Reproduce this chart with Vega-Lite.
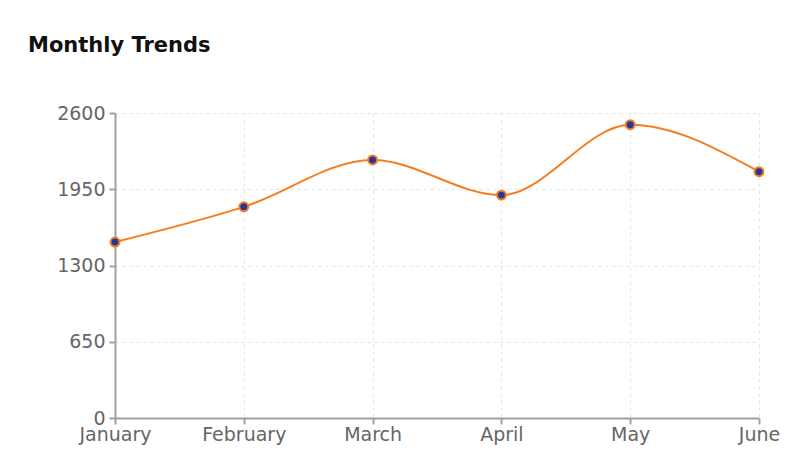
{
  "$schema": "https://vega.github.io/schema/vega-lite/v6.json",
  "autosize": "none",
  "width": 644,
  "height": 305,
  "padding": {"left": 115, "top": 113, "right": 41, "bottom": 42},
  "background": "#ffffff",
  "title": {
    "text": "Monthly Trends",
    "anchor": "start",
    "frame": "group",
    "dx": -87,
    "offset": 48,
    "font": "DejaVu Sans",
    "fontSize": 21,
    "fontWeight": "bold",
    "color": "#111111"
  },
  "data": {
    "values": [
      {"month": "January", "value": 1500},
      {"month": "February", "value": 1800},
      {"month": "March", "value": 2200},
      {"month": "April", "value": 1900},
      {"month": "May", "value": 2500},
      {"month": "June", "value": 2100}
    ]
  },
  "encoding": {
    "x": {
      "field": "month",
      "type": "ordinal",
      "sort": null,
      "scale": {"type": "point", "padding": 0},
      "axis": {
        "title": null,
        "labelAngle": 0,
        "labelFont": "DejaVu Sans",
        "labelFontSize": 19,
        "labelColor": "#666666",
        "labelPadding": 1,
        "domainColor": "#a0a0a0",
        "domainWidth": 2,
        "tickColor": "#a0a0a0",
        "tickWidth": 2,
        "tickSize": 6,
        "grid": true,
        "gridColor": "#e2e2e2",
        "gridDash": [3, 4]
      }
    },
    "y": {
      "field": "value",
      "type": "quantitative",
      "scale": {"domain": [0, 2600], "nice": false},
      "axis": {
        "title": null,
        "values": [0, 650, 1300, 1950, 2600],
        "format": "d",
        "labelFont": "DejaVu Sans",
        "labelFontSize": 19,
        "labelColor": "#666666",
        "labelPadding": 4,
        "domainColor": "#a0a0a0",
        "domainWidth": 2,
        "tickColor": "#a0a0a0",
        "tickWidth": 2,
        "tickSize": 6,
        "grid": true,
        "gridColor": "#e2e2e2",
        "gridDash": [3, 4]
      }
    }
  },
  "layer": [
    {
      "mark": {"type": "line", "color": "#f57c1f", "strokeWidth": 2, "interpolate": "monotone"}
    },
    {
      "mark": {"type": "point", "filled": true, "fill": "#23399a", "stroke": "#f57c1f", "strokeWidth": 2, "size": 80, "opacity": 1}
    }
  ],
  "config": {"view": {"stroke": null}}
}
